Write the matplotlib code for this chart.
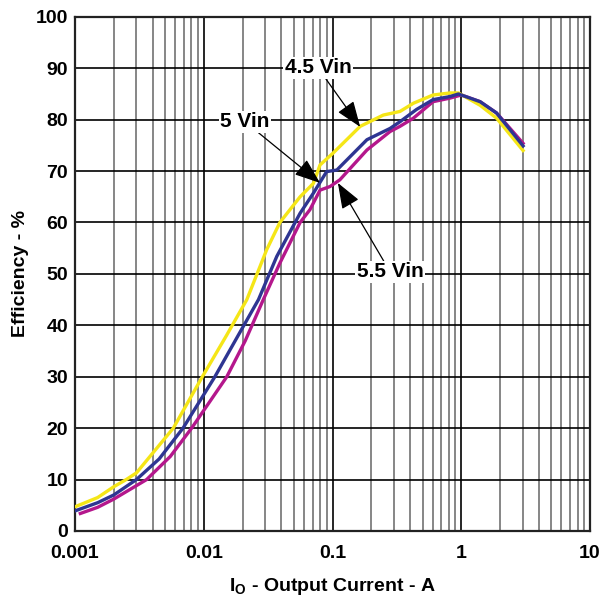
import matplotlib
matplotlib.use("Agg")
import matplotlib.pyplot as plt
from matplotlib.ticker import FixedLocator, LogLocator, NullFormatter

plt.rcParams['font.family'] = ['Liberation Sans', 'DejaVu Sans']
plt.rcParams['font.weight'] = 'bold'

# 4.5 Vin
x_45 = [0.001, 0.0015, 0.002, 0.0025, 0.003, 0.0058, 0.00975, 0.015, 0.0216, 0.0308, 0.039,
        0.056, 0.071, 0.08, 0.101, 0.164, 0.248, 0.334, 0.425, 0.604, 0.818, 0.95, 1.4, 1.88, 3.02]
eff_45 = [4.7, 6.5, 8.6, 10.0, 11.3, 20.0, 30.0, 38.0, 45.0, 54.7, 60.0,
          65.0, 67.6, 71.2, 73.5, 78.7, 80.9, 81.6, 83.2, 84.8, 85.2, 85.2, 82.8, 80.3, 74.0]

# 5 Vin
x_5 = [0.001, 0.0015, 0.002, 0.003, 0.0045, 0.0069, 0.0122, 0.018, 0.0266, 0.0369, 0.056,
       0.071, 0.09, 0.108, 0.185, 0.28, 0.334, 0.45, 0.604, 0.818, 0.95, 1.4, 1.88, 3.02]
eff_5 = [3.9, 5.5, 7.0, 10.0, 14.0, 20.0, 30.0, 37.5, 45.0, 53.4, 61.8,
         65.7, 69.9, 70.2, 76.1, 78.3, 79.6, 82.0, 83.9, 84.5, 85.0, 83.5, 81.3, 74.9]

# 5.5 Vin
x_55 = [0.0011, 0.0015, 0.002, 0.0036, 0.0055, 0.00805, 0.0151, 0.021, 0.029, 0.039, 0.056,
        0.0668, 0.08, 0.0957, 0.114, 0.185, 0.28, 0.334, 0.425, 0.604, 0.818, 1.0, 1.4, 1.88, 3.02]
eff_55 = [3.4, 4.6, 6.2, 10.0, 14.5, 20.0, 30.0, 37.0, 45.0, 52.1, 60.0,
          62.5, 66.3, 67.0, 68.3, 74.1, 77.7, 78.7, 80.3, 83.5, 84.2, 84.8, 83.5, 81.3, 75.4]

fig = plt.figure(figsize=(6.02, 6.02), dpi=100)
ax = fig.add_axes([0.1246, 0.118, 0.8555, 0.854])

ax.plot(x_45, eff_45, color='#f5e617', lw=2.4, zorder=3)
ax.plot(x_5, eff_5, color='#2e3592', lw=2.4, zorder=4)
ax.plot(x_55, eff_55, color='#b4178c', lw=2.4, zorder=2)

ax.set_xscale('log')
ax.set_xlim(0.001, 10)
ax.set_ylim(0, 100)
ax.xaxis.set_major_locator(FixedLocator([0.001, 0.01, 0.1, 1, 10]))
ax.xaxis.set_minor_locator(LogLocator(base=10, subs=range(2, 10)))
ax.xaxis.set_minor_formatter(NullFormatter())
ax.set_xticks([0.001, 0.01, 0.1, 1, 10])
ax.set_xticklabels(['0.001', '0.01', '0.1', '1', '10'])
ax.set_yticks(range(0, 101, 10))

ax.grid(which='major', color='black', lw=1.2)
ax.grid(which='minor', axis='x', color='#666666', lw=1.1)
ax.set_axisbelow(True)
ax.tick_params(which='both', length=0, labelsize=14)
ax.tick_params(axis='x', pad=10)
ax.tick_params(axis='y', pad=5)
for s in ax.spines.values():
    s.set_linewidth(1.6)
    s.set_color('#222222')

ax.set_xlabel(r'I$_\mathregular{O}$ - Output Current - A', fontsize=14, fontweight='bold', labelpad=10)
ax.set_ylabel('Efficiency - %', fontsize=14, fontweight='bold', labelpad=5)

box = dict(facecolor='white', edgecolor='none', pad=1)
arrow = dict(arrowstyle='-|>,head_length=0.8,head_width=0.3', color='black', lw=0.9,
             mutation_scale=20, shrinkA=0, shrinkB=0)
ax.annotate('4.5 Vin', xy=(0.164, 78.6), xytext=(0.077, 90.1), fontsize=15, fontweight='bold',
            ha='center', va='center', bbox=box, arrowprops=arrow, zorder=6)
ax.annotate('5 Vin', xy=(0.08, 67.7), xytext=(0.0209, 79.6), fontsize=15, fontweight='bold',
            ha='center', va='center', bbox=box, arrowprops=arrow, zorder=6)
ax.annotate('5.5 Vin', xy=(0.11, 67.7), xytext=(0.28, 50.4), fontsize=15, fontweight='bold',
            ha='center', va='center', bbox=box, arrowprops=arrow, zorder=6)

fig.savefig('out.png', dpi=100)
